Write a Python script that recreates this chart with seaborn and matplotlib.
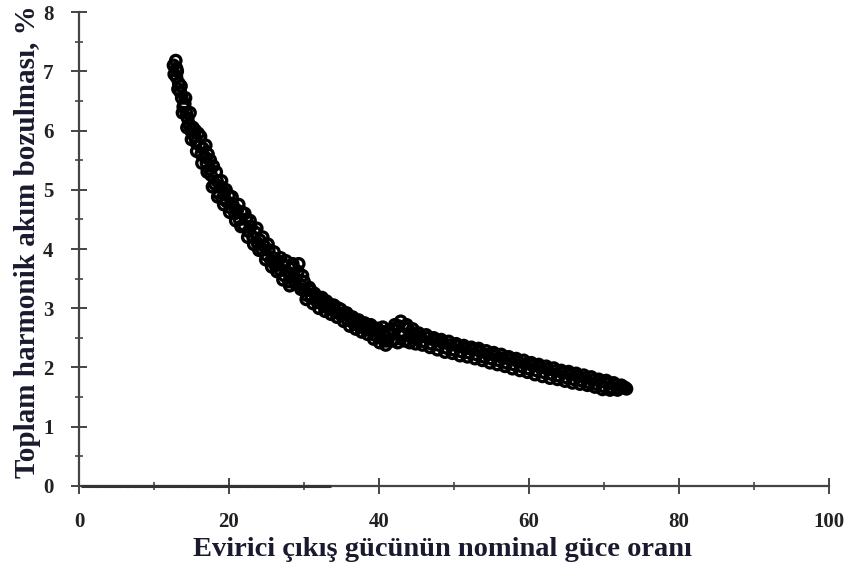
import matplotlib
matplotlib.use("Agg")
import matplotlib.pyplot as plt
from matplotlib.ticker import MultipleLocator
import seaborn as sns
import pandas as pd

# Inverter output power as a share of rated power (%) and current THD (%), first pass
power_ratio = [
    12.6, 12.9, 13.1, 13.0, 13.3, 13.5, 13.7, 13.9, 14.1, 14.3,
    14.5, 14.7, 14.9, 15.2, 15.4, 15.6, 15.9, 16.1, 16.3, 16.5,
    16.8, 17.0, 17.2, 17.4, 17.6, 17.9, 18.1, 18.4, 18.6, 18.9,
    19.1, 19.4, 19.7, 20.0, 20.2, 20.5, 20.8, 21.1, 21.4, 21.7,
    22.0, 22.3, 22.6, 22.9, 23.2, 23.5, 23.8, 24.1, 24.4, 24.7,
    25.0, 25.3, 25.6, 25.9, 26.2, 26.5, 26.8, 27.1, 27.4, 27.7,
    28.0, 28.3, 28.6, 28.9, 29.2, 29.5, 29.8, 30.1, 30.4, 30.7,
    31.0, 31.4, 31.8, 32.2, 32.6, 33.0, 33.4, 33.8, 34.2, 34.6,
    35.0, 35.4, 35.8, 36.2, 36.6, 37.0, 37.4, 37.8, 38.2, 38.6,
    39.0, 39.4, 39.8, 40.2, 40.6, 41.0, 41.4, 41.8, 42.2, 42.6,
    43.0, 43.4, 43.8, 44.2, 44.6, 45.0, 45.5, 46.0, 46.5, 47.0,
    47.5, 48.0, 48.5, 49.0, 49.5, 50.0, 50.5, 51.0, 51.5, 52.0,
    52.5, 53.0, 53.5, 54.0, 54.5, 55.0, 55.5, 56.0, 56.5, 57.0,
    57.5, 58.0, 58.5, 59.0, 59.5, 60.0, 60.5, 61.0, 61.5, 62.0,
    62.5, 63.0, 63.5, 64.0, 64.5, 65.0, 65.5, 66.0, 66.5, 67.0,
    67.5, 68.0, 68.5, 69.0, 69.5, 70.0, 70.5, 71.0, 71.5, 72.0,
    72.5, 73.0,
]
thd = [
    7.10, 7.18, 7.00, 6.90, 6.80, 6.65, 6.55, 6.40, 6.45, 6.30,
    6.20, 6.10, 6.00, 6.05, 5.90, 5.80, 5.95, 5.75, 5.60, 5.70,
    5.55, 5.45, 5.60, 5.35, 5.25, 5.40, 5.10, 5.15, 4.95, 5.05,
    4.85, 4.95, 4.80, 4.90, 4.70, 4.75, 4.60, 4.65, 4.50, 4.62,
    4.40, 4.50, 4.30, 4.38, 4.20, 4.28, 4.10, 4.15, 4.00, 4.05,
    3.90, 3.98, 3.80, 3.85, 3.72, 3.80, 3.65, 3.75, 3.55, 3.62,
    3.45, 3.58, 3.68, 3.50, 3.62, 3.40, 3.55, 3.30, 3.22, 3.35,
    3.18, 3.25, 3.10, 3.15, 3.05, 3.12, 3.00, 3.05, 2.95, 3.00,
    2.88, 2.92, 2.80, 2.85, 2.75, 2.80, 2.70, 2.74, 2.66, 2.70,
    2.62, 2.55, 2.66, 2.50, 2.60, 2.45, 2.55, 2.65, 2.48, 2.70,
    2.58, 2.45, 2.66, 2.52, 2.58, 2.48, 2.52, 2.44, 2.50, 2.40,
    2.45, 2.38, 2.42, 2.33, 2.38, 2.30, 2.36, 2.27, 2.32, 2.25,
    2.30, 2.22, 2.27, 2.18, 2.22, 2.15, 2.20, 2.12, 2.16, 2.08,
    2.13, 2.05, 2.10, 2.02, 2.06, 1.98, 2.03, 1.95, 2.00, 1.92,
    1.97, 1.89, 1.94, 1.86, 1.91, 1.83, 1.88, 1.80, 1.85, 1.78,
    1.82, 1.75, 1.79, 1.72, 1.76, 1.68, 1.73, 1.66, 1.70, 1.65,
    1.68, 1.64,
]

# Second pass of readings over the same power range
power_ratio_2 = [
    12.7, 13.0, 13.2, 13.6, 13.8, 14.2, 14.4, 14.8, 15.0, 15.5,
    15.7, 16.2, 16.4, 16.9, 17.1, 17.5, 17.8, 18.3, 18.5, 19.0,
    19.3, 19.6, 20.1, 20.4, 20.9, 21.3, 21.6, 22.1, 22.5, 22.8,
    23.3, 23.7, 24.0, 24.5, 24.9, 25.2, 25.7, 26.0, 26.4, 26.9,
    27.2, 27.6, 28.1, 28.5, 28.8, 29.3, 29.6, 30.0, 30.3, 30.9,
    31.2, 31.6, 32.0, 32.4, 32.8, 33.2, 33.6, 34.0, 34.4, 34.9,
    35.3, 35.7, 36.1, 36.5, 36.9, 37.3, 37.7, 38.1, 38.5, 38.9,
    39.3, 39.7, 40.1, 40.5, 40.9, 41.3, 41.7, 42.1, 42.5, 42.9,
    43.3, 43.7, 44.1, 44.5, 44.9, 45.3, 45.8, 46.3, 46.8, 47.3,
    47.8, 48.3, 48.8, 49.3, 49.8, 50.3, 50.8, 51.3, 51.8, 52.3,
    52.8, 53.3, 53.8, 54.3, 54.8, 55.3, 55.8, 56.3, 56.8, 57.3,
    57.8, 58.3, 58.8, 59.3, 59.8, 60.3, 60.8, 61.3, 61.8, 62.3,
    62.8, 63.3, 63.8, 64.3, 64.8, 65.3, 65.8, 66.3, 66.8, 67.3,
    67.8, 68.3, 68.8, 69.3, 69.8, 70.3, 70.8, 71.3, 71.8, 72.3,
    72.8,
]
thd_2 = [
    6.95, 7.05, 6.70, 6.75, 6.30, 6.55, 6.05, 6.30, 5.85, 6.00,
    5.65, 5.90, 5.45, 5.75, 5.30, 5.50, 5.05, 5.30, 4.88, 5.15,
    4.75, 5.00, 4.62, 4.88, 4.48, 4.75, 4.38, 4.60, 4.20, 4.48,
    4.08, 4.35, 3.98, 4.20, 3.82, 4.08, 3.70, 3.95, 3.62, 3.85,
    3.48, 3.80, 3.38, 3.75, 3.42, 3.75, 3.32, 3.45, 3.15, 3.30,
    3.08, 3.20, 3.00, 3.18, 2.95, 3.08, 2.90, 3.05, 2.85, 2.98,
    2.78, 2.92, 2.70, 2.85, 2.65, 2.80, 2.60, 2.75, 2.56, 2.72,
    2.48, 2.62, 2.42, 2.68, 2.38, 2.62, 2.45, 2.72, 2.42, 2.78,
    2.55, 2.72, 2.42, 2.65, 2.40, 2.58, 2.38, 2.55, 2.34, 2.50,
    2.30, 2.47, 2.26, 2.44, 2.24, 2.40, 2.20, 2.37, 2.18, 2.34,
    2.15, 2.32, 2.12, 2.28, 2.08, 2.25, 2.05, 2.22, 2.02, 2.18,
    1.98, 2.15, 1.95, 2.12, 1.92, 2.08, 1.88, 2.05, 1.85, 2.02,
    1.82, 1.99, 1.80, 1.95, 1.77, 1.93, 1.74, 1.90, 1.72, 1.87,
    1.70, 1.84, 1.67, 1.80, 1.63, 1.78, 1.62, 1.74, 1.62, 1.70,
    1.66,
]

# Low-power readings that were logged with zero distortion
zero_ratio = [1, 2, 3, 4, 5, 6, 7, 8, 9, 10, 11, 12, 13, 14, 15, 16, 17, 18, 19, 20,
              21, 22, 23, 24, 25, 26, 27, 28, 29, 30, 31, 32, 33]
zero_thd = [0] * len(zero_ratio)

x_ticks = [0, 20, 40, 60, 80, 100]
y_ticks = [0, 1, 2, 3, 4, 5, 6, 7, 8]

df = pd.DataFrame({"ratio": power_ratio + power_ratio_2, "thd": thd + thd_2})
df_zero = pd.DataFrame({"ratio": zero_ratio, "thd": zero_thd})

sns.set_style("ticks")
plt.rcParams["font.family"] = ["Liberation Serif", "DejaVu Serif"]
plt.rcParams["font.weight"] = "bold"

fig = plt.figure(figsize=(8.54, 5.78), dpi=100)
ax = fig.add_axes([0.0925, 0.1592, 0.8782, 0.82])

sns.scatterplot(data=df_zero, x="ratio", y="thd", ax=ax, marker="_", s=60,
                color="#333333", linewidth=2.2, clip_on=False, zorder=3)
sns.scatterplot(data=df, x="ratio", y="thd", ax=ax, marker="o", s=56,
                facecolor="none", edgecolor="black", linewidth=2.4, zorder=4)

ax.set_xlim(0, 100)
ax.set_ylim(0, 8)
ax.set_xticks(x_ticks)
ax.set_yticks(y_ticks)
ax.xaxis.set_minor_locator(MultipleLocator(10))
ax.yaxis.set_minor_locator(MultipleLocator(0.5))

for side in ("top", "right"):
    ax.spines[side].set_visible(False)
for side in ("left", "bottom"):
    ax.spines[side].set_color("#444444")
    ax.spines[side].set_linewidth(1.6)

ax.tick_params(which="major", direction="inout", length=11, width=1.4,
               color="#444444", labelsize=15, labelcolor="#222222")
ax.tick_params(which="minor", direction="inout", length=6, width=1.2,
               color="#444444")
ax.tick_params(axis="x", which="major", pad=13)
ax.tick_params(axis="y", which="major", pad=13)
for lab in ax.get_xticklabels() + ax.get_yticklabels():
    lab.set_fontweight("bold")

ax.set_xlabel("Evirici çıkış gücünün nominal güce oranı", fontsize=20.5,
              fontweight="bold", color="#1a1a2e")
ax.set_ylabel("Toplam harmonik akım bozulması, %", fontsize=21,
              fontweight="bold", color="#1a1a2e")
ax.xaxis.set_label_coords(0.484, -0.108)
ax.yaxis.set_label_coords(-0.050, 0.515)

fig.savefig("out.png", dpi=100)
